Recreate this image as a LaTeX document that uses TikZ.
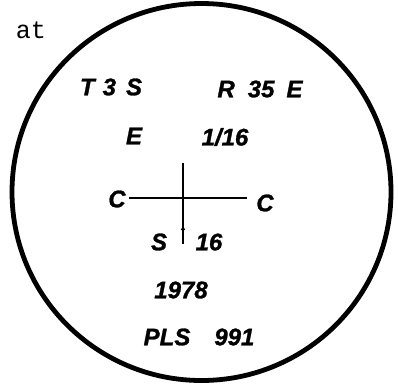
\documentclass[tikz,border=0pt]{standalone}
\usepackage{fontspec}
\setmainfont{Liberation Sans}
\setmonofont{Liberation Mono}
\newfontfamily\lettering[FakeBold=1.2]{Liberation Sans Bold Italic}
\usetikzlibrary{arrows.meta}

\tikzset{
  stamp/.style={font=\fontsize{24}{27}\selectfont\lettering, inner sep=0pt},
  tag/.style={font=\fontsize{25}{28}\selectfont\ttfamily, inner sep=0pt},
  rim/.style={line width=4.8pt},
  hair/.style={line width=2pt}
}

\begin{document}
\begin{tikzpicture}[x=1pt, y=-1pt]

            % Frame (keeps the page the size of the reference)
            \useasboundingbox (0,0) rectangle (398,384);

            % Plate outline
            \draw[rim] (201.5,192) ellipse (189.5 and 188.5);
            \node[tag] (at) at (31,30) {at};

            % Upper lines
            \node[stamp] (town)  at (111,87)  {T\hspace{8pt}3\hspace{10pt}S};
            \node[stamp] (range) at (260,89)  {R\hspace{13pt}35\hspace{12pt}E};
            \node[stamp] (east)  at (134,136) {E};
            \node[stamp] (frac)  at (225,137) {1/16};

            % Cross
            \coordinate (top) at (183,163);
            \coordinate (bot) at (183,244);
            \coordinate (tip) at (183,224);
            \coordinate (lft) at (129,198);
            \coordinate (rgt) at (247,198);
            \draw[hair] (top) -- (bot);
            \draw[hair, -{Latex[length=6pt,width=4.5pt]}] (bot) -- (tip);
            \draw[hair] (lft) -- (rgt);

            \node[stamp] (cl) at (117,199) {C};
            \node[stamp] (cr) at (265,203) {C};
            \node[stamp] (s)  at (159,242) {S};
            \node[stamp] (sx) at (209,242) {16};

            % Lower lines
            \node[stamp] (year) at (181,290) {1978};
            \node[stamp] (pls)  at (199,337) {PLS\hspace{24pt}991};

\end{tikzpicture}
\end{document}
